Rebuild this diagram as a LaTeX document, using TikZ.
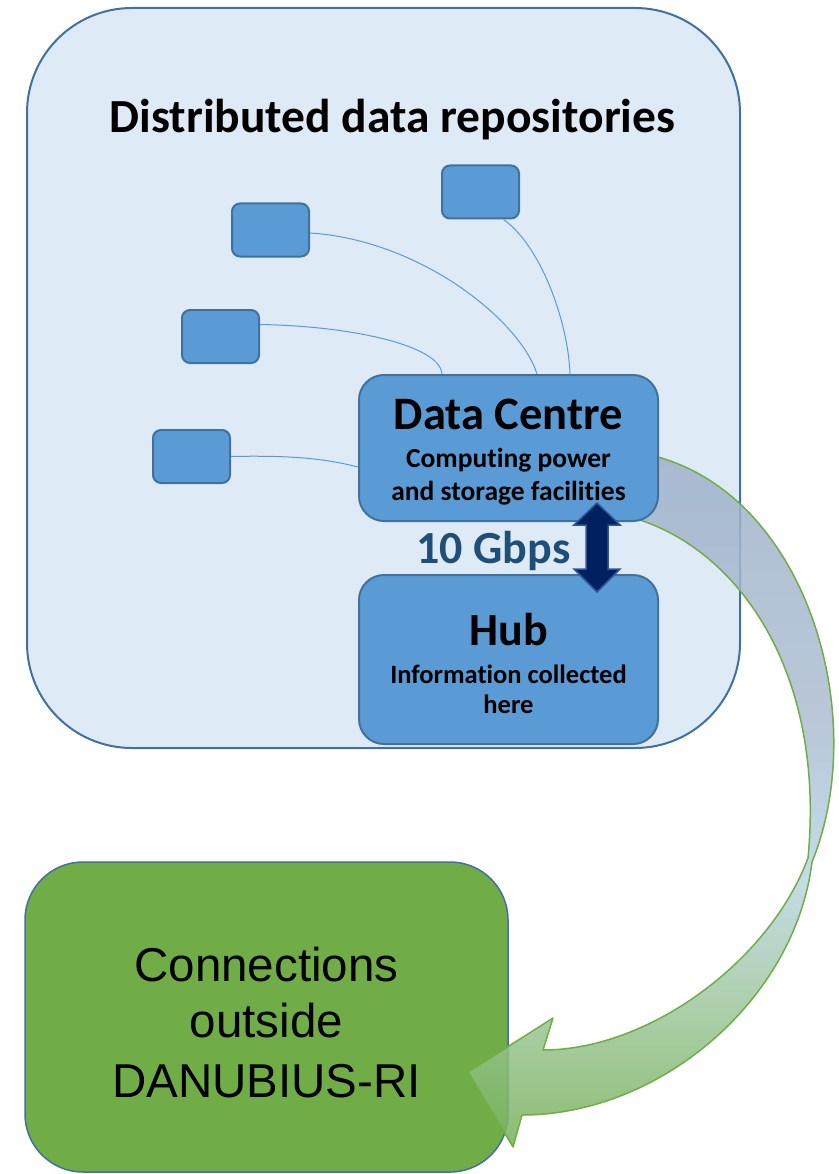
\documentclass[tikz,border=0pt]{standalone}
\usepackage{fontspec}
\newfontfamily\calfont[Ligatures=NoCommon]{Carlito}
\newfontfamily\arialf{Liberation Sans}
\definecolor{contfill}{HTML}{DEEBF7}
\definecolor{bordc}{HTML}{41719C}
\definecolor{boxc}{HTML}{5B9BD5}
\definecolor{textblue}{HTML}{1F4E79}
\definecolor{navy}{HTML}{002060}
\definecolor{navyedge}{HTML}{2F5597}
\definecolor{greenc}{HTML}{70AD47}
\definecolor{arB}{HTML}{78B257}
\definecolor{arG}{HTML}{9EC79C}
\definecolor{arL}{HTML}{BBD6E4}
\definecolor{arM}{HTML}{AEBFD3}
\definecolor{arT}{HTML}{A0B2CA}
\pgfdeclareverticalshading{arrowshade}{100bp}{color(0bp)=(arB); color(25bp)=(arB); color(35bp)=(arG); color(44.5bp)=(arL); color(55bp)=(arM); color(75bp)=(arT); color(100bp)=(arT)}
\tikzset{
  container/.style={draw=bordc, fill=contfill, line width=2pt, rounded corners=105pt, inner sep=0pt},
  repo/.style={draw=bordc, fill=boxc, line width=2pt, rounded corners=8pt, minimum width=77pt, minimum height=53pt, inner sep=0pt},
  bigbox/.style={draw=bordc, fill=boxc, line width=2pt, rounded corners=25pt, minimum width=299pt, inner sep=0pt},
  greenbox/.style={draw=bordc, fill=greenc, line width=1.5pt, rounded corners=58pt, minimum width=483pt, minimum height=310pt, inner sep=0pt},
  link/.style={draw=boxc, line width=1pt},
  lbl/.style={anchor=base, inner sep=0pt},
}
\begin{document}
\begin{tikzpicture}[x=1pt,y=-1pt]
\useasboundingbox[fill=white] (0,0) rectangle (838,1174);
% container
\node[container, minimum width=713pt, minimum height=740pt] (cont) at (383.5,378) {};
\node[lbl, font=\calfont\bfseries\fontsize{47.5}{57}\selectfont] (title) at (392.5,133) {Distributed data repositories};
% repositories
\node[repo] (r1) at (480.5,192) {};
\node[repo] (r2) at (270.5,230) {};
\node[repo] (r3) at (220.5,336.5) {};
\node[repo] (r4) at (191.5,456.5) {};
% green box
\node[greenbox] (out) at (266.5,1017) {};
\node[lbl, font=\arialf\fontsize{47.5}{57}\selectfont] (o1) at (266.5,981) {Connections};
\node[lbl, font=\arialf\fontsize{47.5}{57}\selectfont] (o2) at (266.5,1037) {outside};
\node[lbl, font=\arialf\fontsize{47.5}{57}\selectfont] (o3) at (266.5,1097) {DANUBIUS-RI};
% curved arrow
\path[shade, shading=arrowshade, fill opacity=0.85]
  (640,520) .. controls (745,555) and (825,680) .. (808,858)
  .. controls (770,960) and (650,1050) .. (543,1050)
  -- (553,1018) -- (468,1072) -- (513,1147) -- (522,1115)
  .. controls (660,1115) and (795,1000) .. (812,862)
  .. controls (870,720) and (810,500) .. (658,457) -- cycle;
\draw[greenc, line width=1.5pt, line join=round]
  (640,520) .. controls (745,555) and (825,680) .. (808,858)
  .. controls (770,960) and (650,1050) .. (543,1050)
  -- (553,1018) -- (468,1072) -- (513,1147) -- (522,1115)
  .. controls (660,1115) and (795,1000) .. (812,862)
  .. controls (870,720) and (810,500) .. (658,457);
% data centre and hub
\node[bigbox, minimum height=146pt] (dc) at (508.5,448) {};
\node[bigbox, minimum height=169pt] (hub) at (508.5,659.5) {};
\node[lbl, font=\calfont\bfseries\fontsize{46.5}{56}\selectfont] (dct) at (508.5,429) {Data Centre};
\node[lbl, font=\calfont\bfseries\fontsize{27.5}{33}\selectfont] (dc1) at (508.5,467) {Computing power};
\node[lbl, font=\calfont\bfseries\fontsize{27.5}{33}\selectfont] (dc2) at (508.5,500) {and storage facilities};
\node[lbl, font=\calfont\bfseries\fontsize{46}{56}\selectfont] (hubt) at (508.5,645) {Hub};
\node[lbl, font=\calfont\bfseries\fontsize{26.5}{32}\selectfont] (hub1) at (508.5,683) {Information collected};
\node[lbl, font=\calfont\bfseries\fontsize{26.5}{32}\selectfont] (hub2) at (508.5,713) {here};
% connectors
\draw[link] (r4.east) .. controls (300,455) and (330,460) .. ([yshift=-19pt]dc.west);
\draw[link] ([yshift=12pt]r3.east) .. controls (350,326) and (440,345) .. ([xshift=84pt]dc.north west);
\draw[link] ([yshift=-3pt]r2.east) .. controls (420,240) and (520,320) .. ([xshift=179pt]dc.north west);
\draw[link] ([xshift=23pt]r1.south) .. controls (540,245) and (568,320) .. ([xshift=212pt]dc.north west);
% 10 Gbps link
\node[lbl, font=\calfont\bfseries\fontsize{46}{55}\selectfont, text=textblue] (gbps) at (493.5,563) {10 Gbps};
\draw[fill=navy, draw=navyedge, line width=1.5pt, line join=miter]
  (597,503) -- (620,525) -- (608,525) -- (608,569) -- (620,569) -- (597,592)
  -- (574,569) -- (586,569) -- (586,525) -- (574,525) -- cycle;
\end{tikzpicture}
\end{document}
